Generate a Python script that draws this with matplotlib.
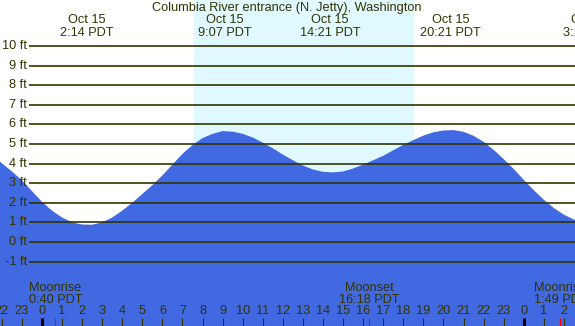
import numpy as np
import matplotlib
matplotlib.use('Agg')
import matplotlib.pyplot as plt

# tide level (ft), time in hours from midnight Oct 15 (PDT)
tide_hours = [-2.09, -2.0, -1.5, -1.0, -0.5, 0.0, 0.5, 1.0, 1.5, 2.0, 2.5, 3.0, 3.5,
              4.0, 4.5, 5.0, 5.5, 6.0, 6.5, 7.0, 7.5, 8.0, 8.5, 9.0, 9.5, 10.0,
              10.5, 11.0, 11.5, 12.0, 12.5, 13.0, 13.5, 14.0, 14.5, 15.0, 15.5,
              16.0, 16.5, 17.0, 17.5, 18.0, 18.5, 19.0, 19.5, 20.0, 20.5, 21.0,
              21.5, 22.0, 22.5, 23.0, 23.5, 24.0, 24.5, 25.0, 25.5, 26.0, 26.55]
tide_ft = [4.10, 4.02, 3.60, 3.15, 2.60, 2.05, 1.60, 1.25, 1.00, 0.89, 0.88, 1.00, 1.25,
           1.60, 2.00, 2.45, 2.90, 3.40, 3.95, 4.50, 4.95, 5.30, 5.52, 5.66, 5.63, 5.52,
           5.33, 5.07, 4.78, 4.46, 4.17, 3.90, 3.70, 3.58, 3.55, 3.60, 3.75,
           3.95, 4.17, 4.40, 4.68, 4.96, 5.20, 5.43, 5.60, 5.69, 5.71, 5.62,
           5.42, 5.11, 4.70, 4.23, 3.72, 3.17, 2.64, 2.15, 1.73, 1.39, 1.12]

# high / low tide labels
extreme_hours = [2.233, 9.117, 14.35, 20.35, 27.3]
extreme_labels = ["Oct 15\n2:14 PDT", "Oct 15\n9:07 PDT", "Oct 15\n14:21 PDT",
                  "Oct 15\n20:21 PDT", "Oct 16\n3:18 PDT"]

# moon events
moon_hours = [0.667, 16.3, 25.817]
moon_labels = ["Moonrise\n0:40 PDT", "Moonset\n16:18 PDT", "Moonrise\n1:49 PDT"]

sunrise, sunset = 7.57, 18.48
levels = list(range(-1, 11))
title = "Columbia River entrance (N. Jetty), Washington"

night_col = '#b0c4de'
day_col = '#e0f8ff'
water_col = '#4169e1'
ink = '#333300'

plt.rcParams['font.family'] = ['Liberation Sans', 'DejaVu Sans']
fs = 9.2

fig = plt.figure(figsize=(5.75, 3.26), dpi=100)
ax = fig.add_axes([0, 0, 1, 1])
ax.set_facecolor(night_col)
x0, x1 = -2.09, 26.55
y0, y1 = -4.29, 12.35
ax.set_xlim(x0, x1)
ax.set_ylim(y0, y1)
ax.axis('off')
ax.patch.set_visible(True)

ax.axvspan(sunrise, sunset, color=day_col, zorder=0)
ax.fill_between(tide_hours, y0, tide_ft, color=water_col, lw=0, zorder=1)

# horizontal grid with labels
px_h = (x1 - x0) / 575.0
for lv in levels:
    ax.plot([x0 + 29 * px_h, x1], [lv, lv], color=ink, lw=1.2, zorder=2,
            solid_capstyle='butt')
    ax.text(x0 + 27 * px_h, lv, "%d ft" % lv, ha='right', va='center',
            fontsize=fs, color=ink, zorder=3)

trans = ax.get_xaxis_transform()

def yfrac(py):
    return 1 - py / 326.0

ax.text(x0 + 287 * px_h, yfrac(7.5), title, ha='center', va='center',
        fontsize=fs, color=ink, transform=trans)

for h, lab in zip(extreme_hours, extreme_labels):
    ax.text(h, yfrac(26.5), lab, ha='center', va='center', fontsize=fs,
            color=ink, transform=trans, linespacing=1.05, clip_on=False)

for h, lab in zip(moon_hours, moon_labels):
    ax.text(h, yfrac(294), lab, ha='center', va='center', fontsize=fs,
            color=ink, transform=trans, linespacing=1.05)

# hour ticks along the bottom
for h in range(-3, 28):
    ax.text(h, yfrac(311.5), str(h % 24), ha='center', va='center',
            fontsize=fs, color=ink, transform=trans)
    lw = 2.2 if h % 24 == 0 else 0.75
    ax.plot([h, h], [0, yfrac(318)], color='black' if h % 24 == 0 else ink,
            lw=lw, transform=trans, solid_capstyle='butt')

for h in moon_hours:
    ax.plot([h, h], [0, yfrac(318)], color='red', lw=0.75, transform=trans,
            solid_capstyle='butt')

fig.savefig('out.png', dpi=100)
